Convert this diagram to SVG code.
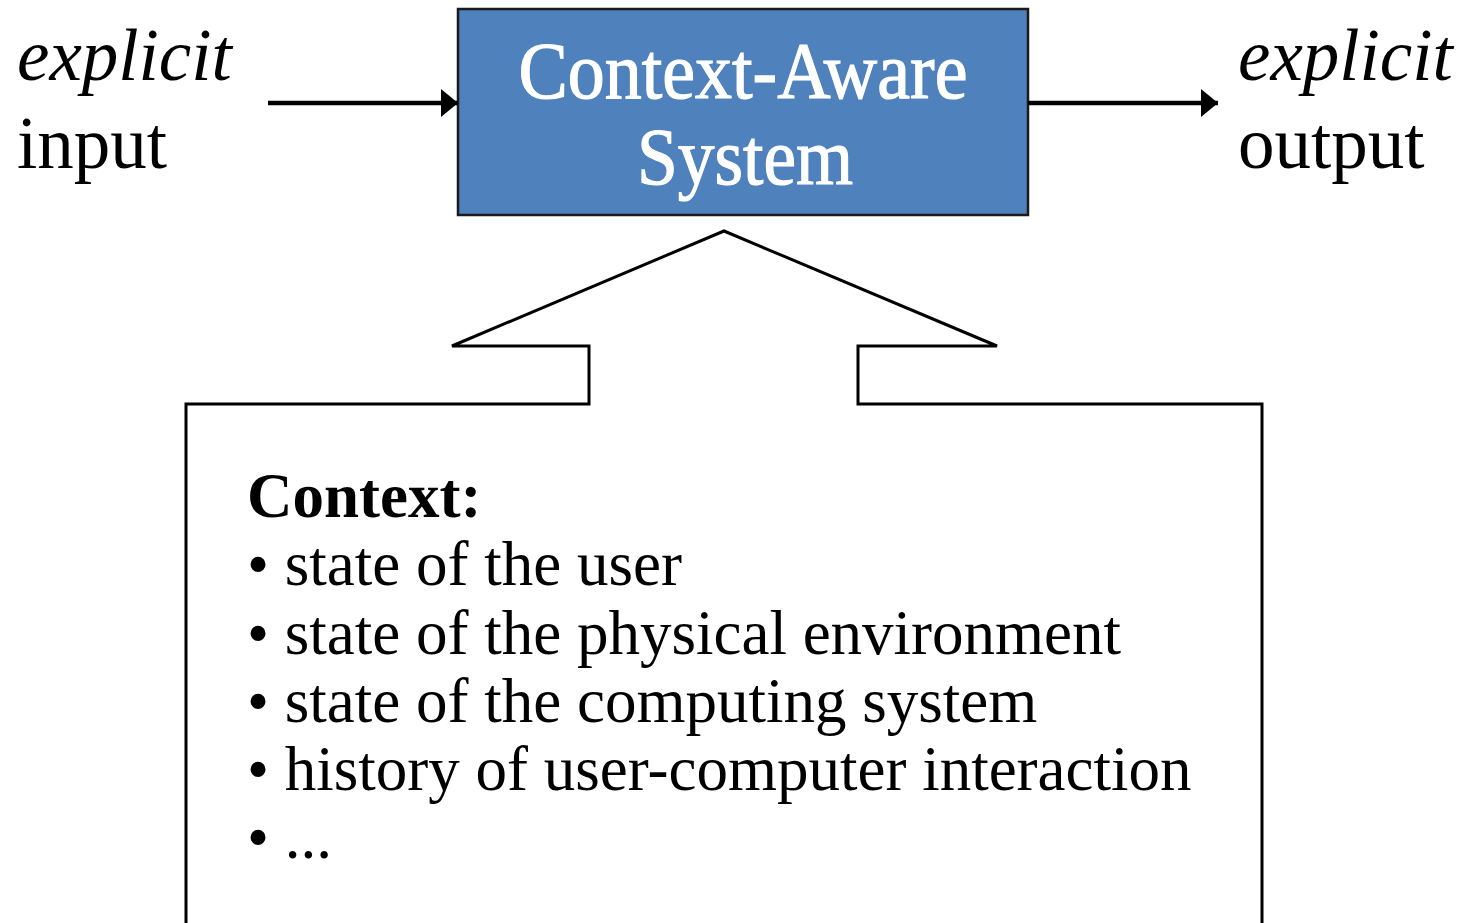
<svg xmlns="http://www.w3.org/2000/svg" width="1463" height="923" viewBox="0 0 1463 923">
  <style>
    .serif { font-family: "Liberation Serif", "Times New Roman", serif; fill: #000; }
    .side { font-size: 73px; }
    .title { font-size: 80px; fill: #fff; stroke: #fff; stroke-width: 1.2; }
    .list { font-size: 63px; }
    .edge { stroke: #000; stroke-width: 4.5; fill: none; }
    .outline { stroke: #000; stroke-width: 3; fill: #fff; stroke-linejoin: miter; }
  </style>
  <defs>
    <marker id="arrowhead" viewBox="0 0 17 28" refX="17" refY="14" markerWidth="17" markerHeight="28" markerUnits="userSpaceOnUse" orient="auto">
      <path d="M0,0 L17,14 L0,28 Z" fill="#000"/>
    </marker>
  </defs>

  <!-- central system block -->
  <g id="system">
    <rect x="458" y="9" width="570" height="206" fill="#4f81bd" stroke="#1a1a1a" stroke-width="2.5"/>
    <text class="serif title" x="743" y="98" text-anchor="middle" textLength="449" lengthAdjust="spacingAndGlyphs">Context-Aware</text>
    <text class="serif title" x="745" y="184" text-anchor="middle" textLength="216" lengthAdjust="spacingAndGlyphs">System</text>
  </g>

  <!-- input label -->
  <g id="input">
    <text class="serif side" x="17" y="80" font-style="italic">explicit</text>
    <text class="serif side" x="17" y="168">input</text>
  </g>

  <!-- output label -->
  <g id="output">
    <text class="serif side" x="1238" y="80" font-style="italic">explicit</text>
    <text class="serif side" x="1238" y="168">output</text>
  </g>

  <!-- context callout pointing up into the system -->
  <g id="context">
    <path class="outline" d="M186,925 L186,404 L589,404 L589,346 L452,346 L724,231 L997,346 L858,346 L858,404 L1262,404 L1262,925"/>
    <text class="serif list" x="247" y="517" font-weight="bold">Context:</text>
    <text class="serif list" x="247" y="585">• state of the user</text>
    <text class="serif list" x="247" y="654">• state of the physical environment</text>
    <text class="serif list" x="247" y="722">• state of the computing system</text>
    <text class="serif list" x="247" y="790">• history of user-computer interaction</text>
    <text class="serif list" x="247" y="858">• ...</text>
  </g>

  <!-- connectors -->
  <g id="connectors">
    <line class="edge" x1="268" y1="103" x2="458" y2="103" marker-end="url(#arrowhead)"/>
    <line class="edge" x1="1028" y1="103" x2="1218" y2="103" marker-end="url(#arrowhead)"/>
  </g>
</svg>
